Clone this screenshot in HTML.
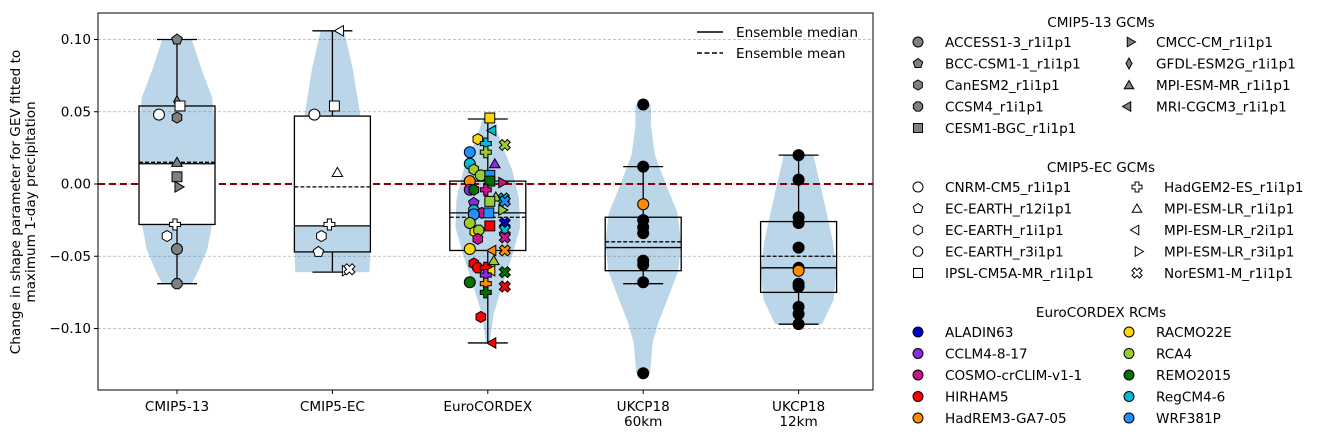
<!DOCTYPE html>
<html><head><meta charset="utf-8"><style>
html,body{margin:0;padding:0;background:#fff;}
svg{display:block;font-family:"DejaVu Sans","Liberation Sans",sans-serif;}
</style></head><body>
<svg id="chart" width="1321" height="440" viewBox="0 0 1321 440" xmlns="http://www.w3.org/2000/svg"></svg>
<script>
// ---- data ----
const categories = ["CMIP5-13", "CMIP5-EC", "EuroCORDEX", "UKCP18\n60km", "UKCP18\n12km"];
const whiskerHi = [0.100, 0.106, 0.045, 0.012, 0.020];
const whiskerLo = [-0.069, -0.061, -0.110, -0.069, -0.097];
const q3s = [0.054, 0.047, 0.002, -0.023, -0.026];
const medians = [0.014, -0.029, -0.020, -0.044, -0.058];
const means = [0.015, -0.002, -0.023, -0.040, -0.050];
const q1s = [-0.028, -0.047, -0.046, -0.060, -0.075];
// violin density profiles: [value, relative density]
const violin0 = [[0.100,0.38],[0.08,0.62],[0.06,0.9],[0.04,0.97],[0.02,0.97],[0.0,0.95],[-0.02,0.95],[-0.045,0.78],[-0.06,0.55],[-0.069,0.38]];
const violin1 = [[0.106,0.3],[0.08,0.52],[0.05,0.7],[0.02,0.8],[0.0,0.88],[-0.03,0.95],[-0.05,0.97],[-0.061,0.95]];
const violin2 = [[0.045,0.12],[0.03,0.32],[0.01,0.62],[-0.01,0.8],[-0.03,0.83],[-0.05,0.62],[-0.07,0.38],[-0.09,0.15],[-0.11,0.05]];
const violin3 = [[0.055,0.2],[0.04,0.2],[0.02,0.3],[0.0,0.58],[-0.02,0.88],[-0.04,0.97],[-0.06,0.9],[-0.08,0.62],[-0.095,0.4],[-0.11,0.24],[-0.131,0.18]];
const violin4 = [[0.020,0.38],[0.0,0.55],[-0.02,0.72],[-0.04,0.88],[-0.06,0.97],[-0.08,0.9],[-0.097,0.6]];
const violins = [violin0, violin1, violin2, violin3, violin4];
// points: [value, color, shape, x-offset]
const pointsCmip13 = [[0.100,"#808080","p",0],[0.057,"#808080","d",0],[0.054,"#fff","s",3],[0.048,"#fff","o",-18],[0.046,"#808080","h",0],[0.015,"#808080","^",0],[0.005,"#808080","s",0],[-0.002,"#808080",">",0],[-0.028,"#fff","P",-2],[-0.036,"#fff","h",-10],[-0.045,"#808080","o",0],[-0.069,"#808080","8",0]];
const pointsCmipEC = [[0.106,"#fff","<",9],[0.054,"#fff","s",2],[0.048,"#fff","o",-18],[0.008,"#fff","^",5],[-0.028,"#fff","P",-3],[-0.036,"#fff","h",-11],[-0.047,"#fff","p",-14],[-0.060,"#fff",">",12],[-0.059,"#fff","X",17]];
const pointsEuro = [[0.0457,"#ffd700","s",2],[0.037,"#00bcd4","<",6],[0.031,"#ffd700","h",-10],[0.028,"#00bcd4","P",-2],[0.027,"#9acd32","X",17],[0.022,"#1e90ff","o",-18],[0.022,"#9acd32","P",-2],[0.014,"#00bcd4","o",-18],[0.014,"#8a2be2","^",7],[0.010,"#9acd32","h",-14],[0.006,"#9acd32","o",-7],[0.006,"#1e90ff","s",2],[0.002,"#007000","s",2],[0.002,"#ff8c00","o",-18],[0.001,"#c71585",">",13],[-0.004,"#8a2be2","o",-18],[-0.004,"#007000","h",-14],[-0.004,"#c71585","P",-2],[-0.009,"#9acd32","^",8],[-0.010,"#00bcd4","X",16],[-0.012,"#9acd32","s",2],[-0.012,"#1e90ff","X",17],[-0.013,"#8a2be2","p",-14],[-0.018,"#9acd32",">",13],[-0.018,"#00bcd4","8",-14],[-0.020,"#c71585","h",-6],[-0.021,"#1e90ff","o",-14],[-0.020,"#1e90ff","s",1],[-0.027,"#9acd32","o",-18],[-0.027,"#0000cd","X",17],[-0.029,"#ff0000","s",2],[-0.033,"#ffd700","h",-13],[-0.032,"#9acd32","8",-9],[-0.032,"#00bcd4","X",17],[-0.038,"#c71585","h",-10],[-0.037,"#c71585","X",17],[-0.045,"#ffd700","o",-18],[-0.046,"#ff8c00","<",6],[-0.046,"#ff8c00","X",17],[-0.055,"#ff0000","h",-14],[-0.053,"#9acd32","^",6],[-0.058,"#ff0000","8",-10],[-0.058,"#ff0000","P",-2],[-0.060,"#ffd700","<",5],[-0.063,"#8a2be2","P",-2],[-0.061,"#007000","X",17],[-0.068,"#007000","o",-18],[-0.069,"#ff8c00","P",-2],[-0.071,"#ff0000","X",17],[-0.075,"#007000","P",-2],[-0.092,"#ff0000","h",-7],[-0.110,"#ff0000","<",6]];
const points60 = [[0.055,"#000","o",0],[0.012,"#000","o",0],[-0.014,"#ff8c00","o",0],[-0.025,"#000","o",0],[-0.030,"#000","o",0],[-0.034,"#000","o",0],[-0.053,"#000","o",0],[-0.056,"#000","o",0],[-0.068,"#000","o",0],[-0.131,"#000","o",0]];
const points12 = [[0.020,"#000","o",0],[0.003,"#000","o",0],[-0.023,"#000","o",0],[-0.027,"#000","o",0],[-0.044,"#000","o",0],[-0.058,"#000","o",0],[-0.069,"#000","o",0],[-0.071,"#000","o",0],[-0.085,"#000","o",0],[-0.090,"#000","o",0],[-0.097,"#000","o",0],[-0.060,"#ff8c00","o",0]];
const pointSets = [pointsCmip13, pointsCmipEC, pointsEuro, points60, points12];
const yTicks = [0.10, 0.05, 0.00, -0.05, -0.10];
const yTickLabels = ["0.10", "0.05", "0.00", "\u22120.05", "\u22120.10"];
const legend13 = [["ACCESS1-3_r1i1p1","o"],["BCC-CSM1-1_r1i1p1","p"],["CanESM2_r1i1p1","h"],["CCSM4_r1i1p1","8"],["CESM1-BGC_r1i1p1","s"],["CMCC-CM_r1i1p1",">"],["GFDL-ESM2G_r1i1p1","d"],["MPI-ESM-MR_r1i1p1","^"],["MRI-CGCM3_r1i1p1","<"]];
const legendEC = [["CNRM-CM5_r1i1p1","o"],["EC-EARTH_r12i1p1","p"],["EC-EARTH_r1i1p1","h"],["EC-EARTH_r3i1p1","8"],["IPSL-CM5A-MR_r1i1p1","s"],["HadGEM2-ES_r1i1p1","P"],["MPI-ESM-LR_r1i1p1","^"],["MPI-ESM-LR_r2i1p1","<"],["MPI-ESM-LR_r3i1p1",">"],["NorESM1-M_r1i1p1","X"]];
const legendRCM = [["ALADIN63","#0000cd"],["CCLM4-8-17","#8a2be2"],["COSMO-crCLIM-v1-1","#c71585"],["HIRHAM5","#ff0000"],["HadREM3-GA7-05","#ff8c00"],["RACMO22E","#ffd700"],["RCA4","#9acd32"],["REMO2015","#007000"],["RegCM4-6","#00bcd4"],["WRF381P","#1e90ff"]];

// ---- axes ----
const NS = "http://www.w3.org/2000/svg";
const svg = document.getElementById("chart");
const PL = 98, PR = 873, PT = 13, PB = 390;
const FS = 13.6;
function xPos(i){ return 177 + i*155.4; }
function yPos(v){ return 184 - v*1445; }
const VW = 39;

function el(tag, attrs, parent){
  const e = document.createElementNS(NS, tag);
  for (const k in attrs) e.setAttribute(k, attrs[k]);
  (parent||svg).appendChild(e);
  return e;
}
function regPoly(cx, cy, n, r, rot){
  const p = [];
  for (let k=0;k<n;k++){ const a = rot + k*2*Math.PI/n; p.push((cx+r*Math.cos(a)).toFixed(2)+","+(cy+r*Math.sin(a)).toFixed(2)); }
  return p.join(" ");
}
function crossPts(cx, cy, r, w, rot){
  const base = [[-w,-r],[w,-r],[w,-w],[r,-w],[r,w],[w,w],[w,r],[-w,r],[-w,w],[-r,w],[-r,-w],[-w,-w]];
  const c = Math.cos(rot), s = Math.sin(rot);
  return base.map(([x,y])=>(cx+x*c-y*s).toFixed(2)+","+(cy+x*s+y*c).toFixed(2)).join(" ");
}
function marker(shape, cx, cy, fill, r, parent){
  const st = {fill: fill, stroke: "#000", "stroke-width": 1};
  let e;
  const P = Math.PI;
  if (shape==="o") e = el("circle", Object.assign({cx:cx, cy:cy, r:r}, st), parent);
  else if (shape==="s") e = el("rect", Object.assign({x:cx-r*0.9, y:cy-r*0.9, width:r*1.8, height:r*1.8}, st), parent);
  else if (shape==="p") e = el("polygon", Object.assign({points: regPoly(cx, cy, 5, r, -P/2)}, st), parent);
  else if (shape==="h") e = el("polygon", Object.assign({points: regPoly(cx, cy, 6, r, -P/2)}, st), parent);
  else if (shape==="8") e = el("polygon", Object.assign({points: regPoly(cx, cy, 8, r, P/8)}, st), parent);
  else if (shape==="^") e = el("polygon", Object.assign({points: regPoly(cx, cy+1, 3, r*1.1, -P/2)}, st), parent);
  else if (shape==="<") e = el("polygon", Object.assign({points: regPoly(cx-1, cy, 3, r*1.1, P)}, st), parent);
  else if (shape===">") e = el("polygon", Object.assign({points: regPoly(cx+1, cy, 3, r*1.1, 0)}, st), parent);
  else if (shape==="d") e = el("polygon", Object.assign({points: [cx+","+(cy-r*1.1), (cx+r*0.6)+","+cy, cx+","+(cy+r*1.1), (cx-r*0.6)+","+cy].join(" ")}, st), parent);
  else if (shape==="P") e = el("polygon", Object.assign({points: crossPts(cx, cy, r, r*0.38, 0)}, st), parent);
  else if (shape==="X") e = el("polygon", Object.assign({points: crossPts(cx, cy, r*1.05, r*0.36, P/4)}, st), parent);
  return e;
}

const defs = el("defs", {});
const cp = el("clipPath", {id:"plotclip"}, defs);
el("rect", {x:PL, y:PT, width:PR-PL, height:PB-PT}, cp);

yTicks.forEach((v,i)=>{
  const g = el("line", {x1:PL, x2:PR, y1:yPos(v), y2:yPos(v), stroke:"#b0b0b0", "stroke-width":0.8, "stroke-dasharray":"3,2"});
  
  
});

const plot = el("g", {"clip-path":"url(#plotclip)"});



violins.forEach((prof, i)=>{
  const cx = xPos(i);
  const right = prof.map(([v,d])=>(cx+d*VW).toFixed(1)+","+yPos(v).toFixed(1));
  const left = prof.slice().reverse().map(([v,d])=>(cx-d*VW).toFixed(1)+","+yPos(v).toFixed(1));
  const pg = el("polygon", {points: right.concat(left).join(" "), fill:"#1f77b4", "fill-opacity":0.3, stroke:"none"}, plot);
  
  
});

const zl = el("line", {x1:PL, x2:PR, y1:yPos(0), y2:yPos(0), stroke:"#8b0000", "stroke-width":2, "stroke-dasharray":"7,4"}, plot);



const BW = 38;
categories.forEach((c,i)=>{
  const cx = xPos(i);
  const g = el("g", {}, plot);
  
  
  if (i===0) el("rect", {x:cx-BW, y:yPos(medians[i]), width:2*BW, height:yPos(q1s[i])-yPos(medians[i]), fill:"#fff"}, g);
  if (i===1) el("rect", {x:cx-BW, y:yPos(q3s[i]), width:2*BW, height:yPos(medians[i])-yPos(q3s[i]), fill:"#fff"}, g);
  const ls = {stroke:"#000", "stroke-width":1.3};
  el("line", Object.assign({x1:cx, x2:cx, y1:yPos(whiskerHi[i]), y2:yPos(q3s[i])}, ls), g);
  el("line", Object.assign({x1:cx, x2:cx, y1:yPos(q1s[i]), y2:yPos(whiskerLo[i])}, ls), g);
  el("line", Object.assign({x1:cx-20, x2:cx+20, y1:yPos(whiskerHi[i]), y2:yPos(whiskerHi[i])}, ls), g);
  el("line", Object.assign({x1:cx-20, x2:cx+20, y1:yPos(whiskerLo[i]), y2:yPos(whiskerLo[i])}, ls), g);
  el("rect", Object.assign({x:cx-BW, y:yPos(q3s[i]), width:2*BW, height:yPos(q1s[i])-yPos(q3s[i]), fill:"none"}, ls), g);
  el("line", Object.assign({x1:cx-BW, x2:cx+BW, y1:yPos(medians[i]), y2:yPos(medians[i])}, ls), g);
  el("line", Object.assign({x1:cx-BW, x2:cx+BW, y1:yPos(means[i]), y2:yPos(means[i]), "stroke-dasharray":"4,2"}, ls), g);
});

pointSets.forEach((set, i)=>{
  const g = el("g", {}, plot);
  
  
  set.forEach(([v,col,sh,dx])=>{
    const m = marker(sh, xPos(i)+dx, yPos(v), col, 5.5, g);
    
    
  });
});

const fr = el("rect", {x:PL, y:PT, width:PR-PL, height:PB-PT, fill:"none", stroke:"#000", "stroke-width":1});



yTicks.forEach((v,i)=>{
  el("line", {x1:PL-4, x2:PL, y1:yPos(v), y2:yPos(v), stroke:"#000", "stroke-width":1});
  const t = el("text", {x:PL-7, y:yPos(v)+4.5, "text-anchor":"end", "font-size":FS, fill:"#000"});
  t.textContent = yTickLabels[i];
  
  
});
categories.forEach((c,i)=>{
  el("line", {x1:xPos(i), x2:xPos(i), y1:PB, y2:PB+4, stroke:"#000", "stroke-width":1});
  c.split("\n").forEach((ln,k)=>{
    const t = el("text", {x:xPos(i), y:411+k*15, "text-anchor":"middle", "font-size":FS, fill:"#000"});
    t.textContent = ln;
    
    
  });
});

const yt = el("text", {transform:"translate(20,202) rotate(-90)", "text-anchor":"middle", "font-size":FS, fill:"#000"});


const ty1 = el("tspan", {x:0, y:0}, yt); ty1.textContent = "Change in shape parameter for GEV fitted to";
const ty2 = el("tspan", {x:0, y:15}, yt); ty2.textContent = "maximum 1-day precipitation";

const il = el("g", {});


el("line", {x1:697, x2:723, y1:32, y2:32, stroke:"#000", "stroke-width":1.5}, il);
el("line", {x1:697, x2:723, y1:53, y2:53, stroke:"#000", "stroke-width":1.5, "stroke-dasharray":"5,2.5"}, il);
const l1 = el("text", {x:736, y:37, "font-size":FS}, il); l1.textContent = "Ensemble median";


const l2 = el("text", {x:736, y:58, "font-size":FS}, il); l2.textContent = "Ensemble mean";



function legendBlock(title, titleY, items, rowY0, col2x, perCol, kind){
  const g = el("g", {});
  
  
  const t = el("text", {x:1101, y:titleY, "text-anchor":"middle", "font-size":FS}, g);
  t.textContent = title;
  items.forEach((it, k)=>{
    const col = Math.floor(k/perCol), row = k%perCol;
    const mx = col===0 ? 918 : col2x;
    const y = rowY0 + row*21.5;
    let m;
    if (kind==="grey") m = marker(it[1], mx, y, "#808080", 5, g);
    else if (kind==="white") m = marker(it[1], mx, y, "#fff", 5, g);
    else m = marker("o", mx, y, it[1], 5, g);
    
    
    const tx = el("text", {x:mx+27, y:y+5, "font-size":FS}, g);
    tx.textContent = it[0];
    
    
  });
}
legendBlock("CMIP5-13 GCMs", 27, legend13, 42, 1129, 5, "grey");
legendBlock("CMIP5-EC GCMs", 172, legendEC, 187, 1137, 5, "white");
legendBlock("EuroCORDEX RCMs", 317, legendRCM, 332, 1129, 5, "rcm");
</script>
</body></html>
